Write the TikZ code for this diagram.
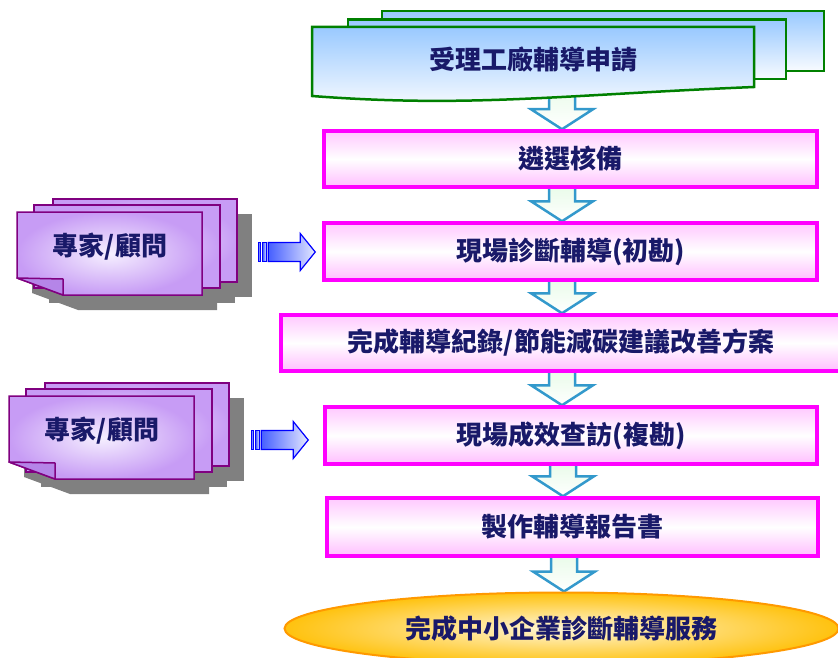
\documentclass[tikz,border=0pt]{standalone}
\usepackage{fontspec}
\newfontfamily\cjk{Noto Sans CJK TC}
\usetikzlibrary{calc,shapes.geometric,backgrounds}
\definecolor{navy}{RGB}{25,25,105}
\definecolor{boxpink}{HTML}{FFC8FF}
\definecolor{boxpink2}{HTML}{FFBEFF}
\definecolor{boxedge}{HTML}{FF00FF}
\definecolor{docgreen}{HTML}{008000}
\definecolor{docblue}{HTML}{99C9FF}
\definecolor{docwhite}{HTML}{F8FBFF}
\definecolor{arrblue}{HTML}{3399CC}
\definecolor{arrgreen}{HTML}{E8FBE8}
\definecolor{lav}{HTML}{C79CF5}
\definecolor{lavlight}{HTML}{F6F0FF}
\definecolor{lavfold}{HTML}{B585E8}
\definecolor{purpedge}{HTML}{800080}
\definecolor{shadowgray}{HTML}{808080}
\definecolor{gold}{HTML}{FFC20E}
\definecolor{goldlight}{HTML}{FFF6D8}
\definecolor{goldedge}{HTML}{FF9900}
\definecolor{sarrow}{RGB}{70,95,255}
\definecolor{sarrowlight}{RGB}{228,232,255}
\tikzset{
  txt/.style={font=\cjk\bfseries\fontsize{26}{30}\selectfont, text=navy},
  procbox/.style={txt, draw=boxedge, line width=3.5pt, top color=boxpink,
    bottom color=boxpink2, middle color=white, minimum height=56pt, inner sep=0pt},
  docsheet/.style={draw=docgreen, line width=2.5pt, top color=docblue, bottom color=docwhite},
  flowarrow/.style={draw=arrblue, line width=2.5pt, top color=arrgreen, bottom color=white, line join=miter},
  sheet/.style={draw=purpedge, line width=1.5pt, inner color=lavlight, outer color=lav},
  foldtri/.style={draw=purpedge, line width=1.5pt, fill=lavfold, line join=round},
  shadowfill/.style={fill=shadowgray},
  stripearrow/.style={draw=blue, line width=1.2pt, left color=sarrow, right color=sarrowlight, line join=miter},
  finale/.style={txt, ellipse, draw=goldedge, line width=2pt, inner color=goldlight,
    outer color=gold, inner sep=0pt}
}
\newcommand\expertstack[2]{%
  \begin{scope}[shift={(#1)}]
    \fill[shadowfill] (51,2) rectangle (235,85);
    \fill[shadowfill] (32,8) rectangle (218,91);
    \fill[shadowfill] (15,15) -- (200,15) -- (200,98) -- (61,98) -- (15,81) -- cycle;
    \draw[sheet] (36,-13) rectangle (220,70);
    \draw[sheet] (17,-7) rectangle (203,76);
    \draw[sheet] (0,0) -- (185,0) -- (185,83) -- (46,83) -- (0,66) -- cycle;
    \draw[foldtri] (0,66) -- (46,67) -- (46,83) -- cycle;
    \node[txt] (#2) at (93,35) {專家/顧問};
  \end{scope}}
\newcommand\stripedarrow[1]{%
  \begin{scope}[shift={(#1)}]
    \draw[stripearrow] (-57,-9.5) rectangle (-54.5,9.5);
    \draw[stripearrow] (-52.5,-9.5) rectangle (-49,9.5);
    \draw[stripearrow] (-47,-9.5) -- (-15,-9.5) -- (-15,-18.5) -- (0,0)
      -- (-15,18.5) -- (-15,9.5) -- (-47,9.5) -- cycle;
  \end{scope}}
\newcommand\flowarr[2]{% #1 start coordinate, #2 tip coordinate
  \draw[flowarrow] ($(#1)+(-13,-4)$) -- ($(#2)+(-13,-20)$) -- ($(#2)+(-31,-20)$)
    -- (#2) -- ($(#2)+(31,-20)$) -- ($(#2)+(13,-20)$) -- ($(#1)+(13,-4)$) -- cycle;}
\begin{document}
\begin{tikzpicture}[x=1pt,y=-1pt]
\useasboundingbox (0,0) rectangle (838,658);
\clip (0,0) rectangle (838,658);
\begin{scope}[on background layer]
  \fill[white] (0,0) rectangle (838,658);
\end{scope}

% document stack
\draw[docsheet] (382,11) rectangle (824,71);
\draw[docsheet] (348,19.5) rectangle (786,79);
\draw[docsheet] (312,27) -- (754,27) -- (754,87) .. controls (560,95) and (470,108) .. (312,96) -- cycle;
\node[txt] (doc) at (533,60) {受理工廠輔導申請};
\coordinate (docbot) at (562,88);

% process boxes
\node[procbox, minimum width=493pt] (b1) at (570.5,159) {遴選核備};
\node[procbox, minimum width=493pt, minimum height=57pt] (b2) at (570.5,251.5) {現場診斷輔導(初勘)};
\node[procbox, minimum width=560pt] (b3) at (561,343) {完成輔導紀錄/節能減碳建議改善方案};
\node[procbox, minimum width=492pt, minimum height=57pt] (b4) at (571,435.5) {現場成效查訪(複勘)};
\node[procbox, minimum width=491pt, minimum height=58pt] (b5) at (572.5,527) {製作輔導報告書};
\node[finale, minimum width=554pt, minimum height=72pt] (fin) at (561.5,628.5) {完成中小企業診斷輔導服務};

% down arrows (behind)
\path (562,0 |- b1.north) coordinate (t1)
      (562,0 |- b1.south) coordinate (s2) (562,0 |- b2.north) coordinate (t2)
      (562,0 |- b2.south) coordinate (s3) (562,0 |- b3.north) coordinate (t3)
      (562,0 |- b3.south) coordinate (s4) (562,0 |- b4.north) coordinate (t4)
      (563,0 |- b4.south) coordinate (s5) (563,0 |- b5.north) coordinate (t5)
      (564,0 |- b5.south) coordinate (s6) (564,0 |- fin.north) coordinate (t6);
\begin{scope}[on background layer]
  \flowarr{docbot}{t1}
  \flowarr{s2}{t2}
  \flowarr{s3}{t3}
  \flowarr{s4}{t4}
  \flowarr{s5}{t5}
  \flowarr{s6}{t6}
\end{scope}

% experts
\expertstack{17,212}{exp1}
\expertstack{9,396}{exp2}
\stripedarrow{$(b2.west)+(-7,0.5)$}
\stripedarrow{$(b4.west)+(-15,4.5)$}
\end{tikzpicture}
\end{document}
